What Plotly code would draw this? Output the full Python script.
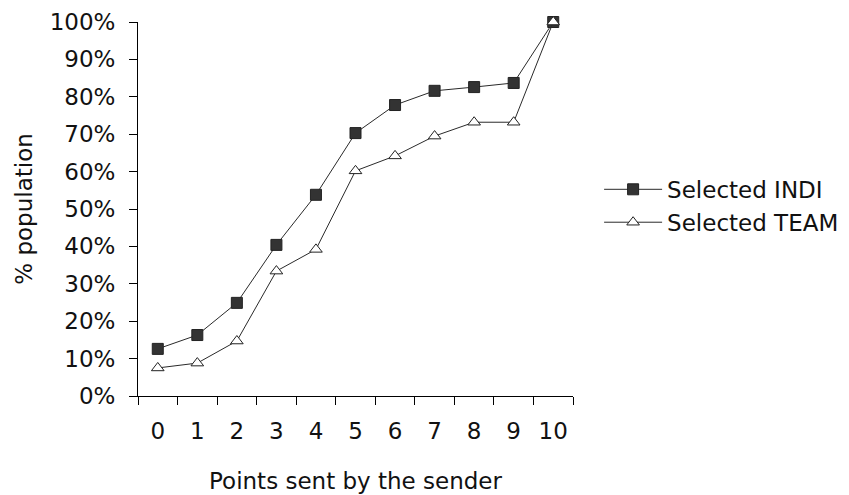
import plotly.graph_objects as go

# Points sent by the sender (categories) and cumulative share of population
points = ["0", "1", "2", "3", "4", "5", "6", "7", "8", "9", "10"]
selected_indi = [0.126, 0.163, 0.249, 0.404, 0.538, 0.703, 0.778, 0.816, 0.826, 0.837, 1.0]
selected_team = [0.075, 0.088, 0.147, 0.334, 0.392, 0.602, 0.642, 0.695, 0.732, 0.732, 1.0]

FONT = "DejaVu Sans, Verdana, sans-serif"
LINE = "#2a2a2a"

fig = go.Figure()
fig.add_trace(go.Scatter(
    x=points, y=selected_indi, name="Selected INDI", mode="lines+markers",
    line=dict(color=LINE, width=1),
    marker=dict(symbol="square", size=11, color="#333333",
                line=dict(color="#222222", width=1)),
    legendgroup="a", cliponaxis=False,
))
fig.add_trace(go.Scatter(
    x=points, y=selected_team, name="Selected TEAM", mode="lines+markers",
    line=dict(color=LINE, width=1),
    marker=dict(symbol="triangle-up", size=11, color="white",
                line=dict(color="#222222", width=1)),
    legendgroup="b", cliponaxis=False,
))

fig.update_layout(
    width=849, height=495,
    margin=dict(l=138, r=276, t=22, b=99, autoexpand=False),
    paper_bgcolor="white", plot_bgcolor="white",
    font=dict(family=FONT, size=23, color="#111111"),
    showlegend=True,
    legend=dict(
        x=1.06, xanchor="left", y=0.61, yanchor="top",
        font=dict(size=23), itemwidth=58, tracegroupgap=0,
        traceorder="grouped", bgcolor="rgba(0,0,0,0)",
    ),
    xaxis=dict(
        type="category", tickson="boundaries", automargin=False,
        range=[-0.5, len(points) - 0.5],
        showline=True, linecolor="black", linewidth=1,
        ticks="outside", ticklen=8, tickcolor="black", tickwidth=1,
        showgrid=False, zeroline=False, ticklabelstandoff=14,
        title=dict(text="Points sent by the sender", standoff=30,
                   font=dict(size=23)),
    ),
    yaxis=dict(
        range=[0, 1], tickvals=[i / 10 for i in range(11)],
        tickformat=".0%", automargin=False,
        showline=True, linecolor="black", linewidth=1,
        ticks="outside", ticklen=8, tickcolor="black", tickwidth=1,
        showgrid=False, zeroline=False, ticklabelstandoff=9,
        title=dict(text="% population", standoff=10, font=dict(size=23)),
    ),
)

fig.write_html("out.html")
